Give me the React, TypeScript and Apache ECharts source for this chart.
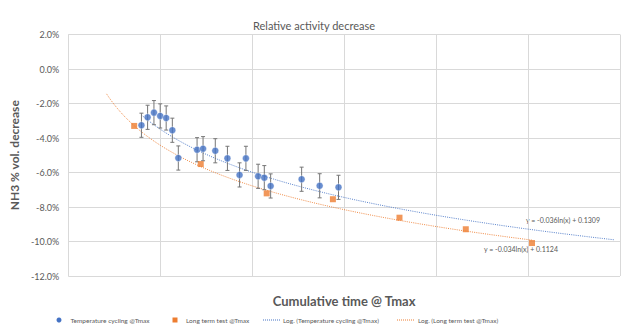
import React, { useEffect, useRef } from "react";
import * as echarts from "echarts";

// Cumulative time @ Tmax (x) and NH3 % vol. decrease (y, in %)
const cyclingX = [79.6, 86.3, 93.2, 100, 106.5, 113.2, 119.7, 140.1, 146.6, 159.9, 173.1, 186.3, 193.2, 206.5, 213.2, 220.1, 253.8, 273.4, 293.9];
const cyclingY = [-3.26, -2.8, -2.53, -2.72, -2.84, -3.55, -5.16, -4.68, -4.62, -4.74, -5.18, -6.14, -5.18, -6.22, -6.3, -6.78, -6.39, -6.77, -6.86];
const cyclingErr = [0.7, 0.7, 0.7, 0.7, 0.7, 0.7, 0.7, 0.7, 0.7, 0.7, 0.7, 0.7, 0.7, 0.7, 0.7, 0.7, 0.7, 0.7, 0.7];
const longX = [71.7, 144.1, 215.8, 287.8, 360.2, 432.3, 504.3];
const longY = [-3.3, -5.51, -7.21, -7.55, -8.62, -9.29, -10.09];

// Trendline equations shown on the chart (y as fraction)
const cyclingTrend = { a: -0.036, b: 0.1309, from: 79.6, to: 593.9 };
const longTrend = { a: -0.034, b: 0.1124, from: 41.7, to: 504.3 };

const yTicks = [-12, -10, -8, -6, -4, -2, 0, 2];

const BLUE = "#4472C4";
const ORANGE = "#ED7D31";
const GREY = "#595959";
const FONT = "Lato";

function trendPoints(t: { a: number; b: number; from: number; to: number }) {
  const pts: number[][] = [];
  const n = 120;
  for (let i = 0; i <= n; i++) {
    const x = t.from + ((t.to - t.from) * i) / n;
    pts.push([x, (t.a * Math.log(x) + t.b) * 100]);
  }
  return pts;
}

export default function App() {
  const ref = useRef<HTMLDivElement>(null);
  useEffect(() => {
    if (!ref.current) return;
    const chart = echarts.init(ref.current, undefined, { renderer: "svg" });
    const errData = cyclingX.map((x, i) => [x, cyclingY[i] - cyclingErr[i], cyclingY[i] + cyclingErr[i]]);
    const legendY = 320;
    chart.setOption({
      animation: false,
      backgroundColor: "#ffffff",
      textStyle: { fontFamily: FONT },
      title: {
        text: "Relative activity decrease",
        left: "center",
        top: 15,
        textStyle: { fontFamily: FONT, fontSize: 11, fontWeight: "normal", color: GREY },
      },
      grid: { left: 62, right: 8, top: 34.5, bottom: 50 },
      xAxis: {
        type: "value",
        min: 0,
        max: 600,
        interval: 100,
        axisLabel: { show: false },
        axisTick: { show: false },
        axisLine: { show: false },
        splitLine: { show: true, lineStyle: { color: "#d9d9d9", width: 1 } },
        name: "Cumulative time @ Tmax",
        nameLocation: "middle",
        nameGap: 18,
        nameTextStyle: { fontFamily: FONT, fontSize: 13, fontWeight: "bold", color: GREY },
      },
      yAxis: {
        type: "value",
        min: yTicks[0],
        max: yTicks[yTicks.length - 1],
        interval: 2,
        axisLabel: {
          formatter: (v: number) => v.toFixed(1) + "%",
          fontFamily: FONT,
          fontSize: 9,
          color: GREY,
          margin: 9,
        },
        axisTick: { show: false },
        axisLine: { show: false },
        splitLine: { show: true, lineStyle: { color: "#d9d9d9", width: 1 } },
        name: "NH3 % vol. decrease",
        nameLocation: "middle",
        nameGap: 40,
        nameTextStyle: { fontFamily: FONT, fontSize: 12, fontWeight: "bold", color: GREY },
      },
      series: [
        {
          type: "line",
          name: "Log. (Long term test @Tmax)",
          data: trendPoints(longTrend),
          showSymbol: false,
          symbol: "none",
          lineStyle: { color: ORANGE, width: 1, type: [1, 1.2], opacity: 0.9 },
          z: 1,
          silent: true,
        },
        {
          type: "line",
          name: "Log. (Temperature cycling @Tmax)",
          data: trendPoints(cyclingTrend),
          showSymbol: false,
          symbol: "none",
          lineStyle: { color: BLUE, width: 1, type: [1, 1.2], opacity: 0.9 },
          z: 1,
          silent: true,
        },
        {
          type: "custom",
          name: "errors",
          data: errData,
          z: 2,
          silent: true,
          renderItem: (params: any, api: any) => {
            const x = api.value(0);
            const lo = api.coord([x, api.value(1)]);
            const hi = api.coord([x, api.value(2)]);
            const style = { stroke: "#767676", lineWidth: 1 };
            return {
              type: "group",
              children: [
                { type: "line", shape: { x1: lo[0], y1: lo[1], x2: hi[0], y2: hi[1] }, style },
                { type: "line", shape: { x1: lo[0] - 2, y1: lo[1], x2: lo[0] + 2, y2: lo[1] }, style },
                { type: "line", shape: { x1: hi[0] - 2, y1: hi[1], x2: hi[0] + 2, y2: hi[1] }, style },
              ],
            };
          },
          encode: { x: 0, y: [1, 2] },
        },
        {
          type: "scatter",
          name: "Temperature cycling @Tmax",
          data: cyclingX.map((x, i) => [x, cyclingY[i]]),
          symbol: "circle",
          symbolSize: 7,
          itemStyle: { color: BLUE, borderColor: "#ffffff", borderWidth: 0.5 },
          z: 3,
          silent: true,
        },
        {
          type: "scatter",
          name: "Long term test @Tmax",
          data: longX.map((x, i) => [x, longY[i]]),
          symbol: "rect",
          symbolSize: 6,
          itemStyle: { color: ORANGE },
          z: 3,
          silent: true,
        },
      ],
      graphic: [
        {
          type: "text",
          left: 526,
          top: 216,
          style: { text: "y = -0.036ln(x) + 0.1309", fontFamily: FONT, fontSize: 7, fill: GREY },
        },
        {
          type: "text",
          left: 484,
          top: 245,
          style: { text: "y = -0.034ln(x) + 0.1124", fontFamily: FONT, fontSize: 7, fill: GREY },
        },
        { type: "circle", shape: { cx: 59, cy: legendY, r: 2.5 }, style: { fill: BLUE } },
        {
          type: "text",
          x: 70.5,
          y: legendY,
          style: { text: "Temperature cycling @Tmax", fontFamily: FONT, fontSize: 6.5, fill: GREY, verticalAlign: "middle" },
        },
        { type: "rect", shape: { x: 172.5, y: legendY - 2.5, width: 5, height: 5 }, style: { fill: ORANGE } },
        {
          type: "text",
          x: 186,
          y: legendY,
          style: { text: "Long term test @Tmax", fontFamily: FONT, fontSize: 6.5, fill: GREY, verticalAlign: "middle" },
        },
        {
          type: "line",
          shape: { x1: 263, y1: legendY, x2: 280, y2: legendY },
          style: { stroke: BLUE, lineWidth: 1, lineDash: [1, 1] },
        },
        {
          type: "text",
          x: 283,
          y: legendY,
          style: { text: "Log. (Temperature cycling @Tmax)", fontFamily: FONT, fontSize: 6.5, fill: GREY, verticalAlign: "middle" },
        },
        {
          type: "line",
          shape: { x1: 397, y1: legendY, x2: 414, y2: legendY },
          style: { stroke: ORANGE, lineWidth: 1, lineDash: [1, 1] },
        },
        {
          type: "text",
          x: 418,
          y: legendY,
          style: { text: "Log. (Long term test @Tmax)", fontFamily: FONT, fontSize: 6.5, fill: GREY, verticalAlign: "middle" },
        },
      ],
    });
    return () => chart.dispose();
  }, []);
  return <div ref={ref} style={{ width: 628, height: 326, position: "absolute", left: 0, top: 0 }} />;
}
